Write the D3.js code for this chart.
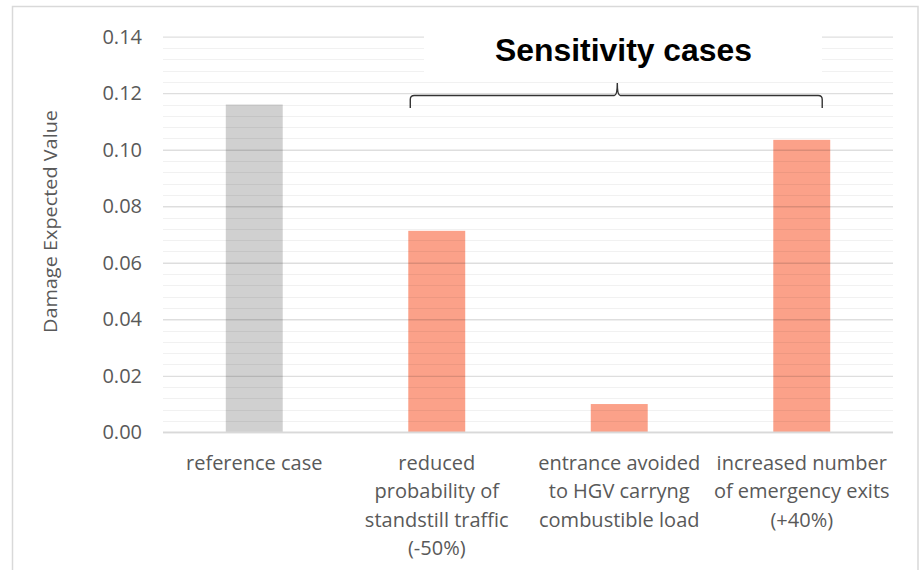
<!DOCTYPE html>
<html>
<head>
<meta charset="utf-8">
<script src="https://cdn.jsdelivr.net/npm/d3@7"></script>
<style>
  html, body { margin: 0; padding: 0; background: #fff; }
  svg { display: block; }
</style>
</head>
<body>
<div id="chart"></div>
<script>
// ---- data ----
const categories = ["reference case",
  "reduced probability of standstill traffic (-50%)",
  "entrance avoided to HGV carryng combustible load",
  "increased number of emergency exits (+40%)"];
const categoryLines = [
  ["reference case"],
  ["reduced", "probability of", "standstill traffic", "(-50%)"],
  ["entrance avoided", "to HGV carryng", "combustible load"],
  ["increased number", "of emergency exits", "(+40%)"]
];
const values = [0.116, 0.0713, 0.0100, 0.1035];
const barColors = ["#D0D0D0", "#FBA189", "#FBA189", "#FBA189"];
const yTicks = [0, 0.02, 0.04, 0.06, 0.08, 0.10, 0.12, 0.14];
const yTitle = "Damage Expected Value";
const annotationTitle = "Sensitivity cases";

// ---- layout ----
const W = 919, H = 570;
const plot = { left: 163, right: 893, top: 36.7, bottom: 432.3 };

const svg = d3.select("#chart").append("svg")
  .attr("width", W).attr("height", H);

// outer border
svg.append("rect")
  .attr("x", 12.5).attr("y", 6.5).attr("width", 905.5).attr("height", H + 10)
  .attr("fill", "none").attr("stroke", "#d9d9d9").attr("stroke-width", 1.5);

const x = d3.scaleBand().domain(categories)
  .range([plot.left, plot.right]).paddingInner(0.688).paddingOuter(0.344);
const y = d3.scaleLinear().domain([0, 0.14]).range([plot.bottom, plot.top]);

// bars
svg.append("g").selectAll("rect").data(values).join("rect")
  .attr("x", (d, i) => x(categories[i]))
  .attr("width", x.bandwidth())
  .attr("y", d => y(d))
  .attr("height", d => y(0) - y(d))
  .attr("fill", (d, i) => barColors[i]);

// minor gridlines
const minorTicks = d3.range(0, 0.14001, 0.004).filter(v => Math.abs(v / 0.02 - Math.round(v / 0.02)) > 1e-6);
svg.append("g").selectAll("line").data(minorTicks).join("line")
  .attr("x1", plot.left).attr("x2", plot.right)
  .attr("y1", d => Math.round(y(d)) + 0.5).attr("y2", d => Math.round(y(d)) + 0.5)
  .attr("stroke", "rgba(0,0,0,0.055)").attr("stroke-width", 1);

// major gridlines via axis
const yAxis = d3.axisLeft(y).tickValues(yTicks).tickFormat(d3.format(".2f"))
  .tickSize(-(plot.right - plot.left)).tickPadding(21);
const gy = svg.append("g").attr("transform", `translate(${plot.left},0)`).call(yAxis);
gy.select(".domain").remove();
gy.selectAll(".tick line").attr("stroke", "rgba(0,0,0,0.13)").attr("stroke-width", 1.3);
gy.selectAll(".tick text")
  .attr("fill", "#595959")
  .style("font-family", "'Open Sans', sans-serif")
  .style("font-size", "20px");

// x baseline
svg.append("line")
  .attr("x1", plot.left).attr("x2", plot.right)
  .attr("y1", y(0)).attr("y2", y(0))
  .attr("stroke", "#d9d9d9").attr("stroke-width", 1.5);

// category labels
const xl = svg.append("g");
categoryLines.forEach((lines, i) => {
  const cx = x(categories[i]) + x.bandwidth() / 2;
  const t = xl.append("text")
    .attr("text-anchor", "middle")
    .attr("fill", "#595959")
    .style("font-family", "'Open Sans', sans-serif")
    .style("font-size", "20px");
  lines.forEach((ln, j) => {
    t.append("tspan").attr("x", cx).attr("y", 470 + j * 28.4).text(ln);
  });
});

// y title
svg.append("text")
  .attr("transform", `translate(57, ${221.5}) rotate(-90)`)
  .attr("text-anchor", "middle")
  .attr("fill", "#595959")
  .style("font-family", "'Open Sans', sans-serif")
  .style("font-size", "19px")
  .attr("textLength", 223).attr("lengthAdjust", "spacingAndGlyphs")
  .text(yTitle);

// annotation: white box + title + bracket
svg.append("rect")
  .attr("x", 424).attr("y", 28).attr("width", 398).attr("height", 48)
  .attr("fill", "#fff");
svg.append("text")
  .attr("x", 623.5).attr("y", 60.5)
  .attr("text-anchor", "middle")
  .attr("fill", "#000")
  .style("font-family", "'Liberation Sans', Arial, sans-serif")
  .style("font-weight", "bold")
  .style("font-size", "32px")
  .attr("textLength", 257).attr("lengthAdjust", "spacingAndGlyphs")
  .text(annotationTitle);

const bx0 = x(categories[1]) + 2, bx1 = x(categories[3]) + x.bandwidth() - 8;
const bm = 617.3;
const yb = y(0.1192), ye = y(0.1148), yt = y(0.1236);
const r = 4;
const p = d3.path();
p.moveTo(bx0, ye);
p.lineTo(bx0, yb + r);
p.quadraticCurveTo(bx0, yb, bx0 + r, yb);
p.lineTo(bm - 3, yb);
p.quadraticCurveTo(bm, yb, bm, yt);
p.quadraticCurveTo(bm, yb, bm + 3, yb);
p.lineTo(bx1 - r, yb);
p.quadraticCurveTo(bx1, yb, bx1, yb + r);
p.lineTo(bx1, ye);
svg.append("path").attr("d", p.toString())
  .attr("fill", "none").attr("stroke", "#333").attr("stroke-width", 1.4);
</script>
</body>
</html>
